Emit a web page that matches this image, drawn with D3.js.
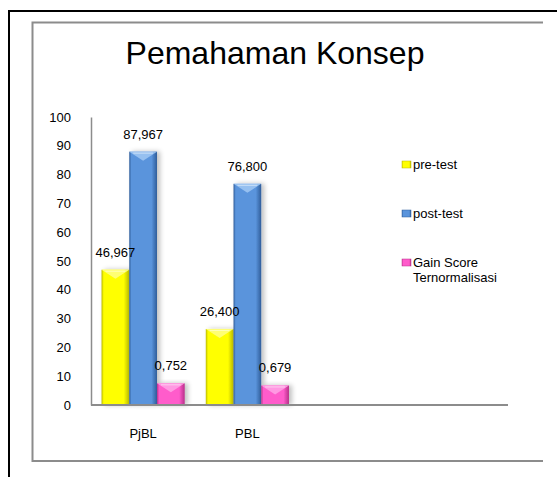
<!DOCTYPE html>
<html>
<head>
<meta charset="utf-8">
<script src="https://cdn.jsdelivr.net/npm/d3@7/dist/d3.min.js"></script>
<style>
    body { margin: 0; background: #fff; }
    svg text { font-family: "Liberation Sans", Arial, sans-serif; fill: #000; }
</style>
</head>
<body>
<div id="chart"></div>
<script>
// data
var categories = ["PjBL", "PBL"];
var seriesNames = ["pre-test", "post-test", "Gain Score Ternormalisasi"];
var preTest = [46.967, 26.400];
var postTest = [87.967, 76.800];
var gainPlotted = [7.52, 6.79];          // bar height as drawn in the picture
var preLabels = ["46,967", "26,400"];
var postLabels = ["87,967", "76,800"];
var gainLabels = ["0,752", "0,679"];
var yTicks = [0, 10, 20, 30, 40, 50, 60, 70, 80, 90, 100];

var width = 557, height = 477;
var slotCount = 4; // the chart leaves room for two more categories

var seriesValues = [preTest, postTest, gainPlotted];
var seriesLabels = [preLabels, postLabels, gainLabels];
var colors = [
    {base: "#ffff00", dark: "#b8b800", light: "#ffff80"},
    {base: "#5a94dc", dark: "#2f5d9a", light: "#9cc4f2"},
    {base: "#ff5ccb", dark: "#b8308a", light: "#ffa0e4"}
];

var svg = d3.select("#chart").append("svg")
    .attr("width", width)
    .attr("height", height);

var defs = svg.append("defs");
colors.forEach(function (c, i) {
    var g = defs.append("linearGradient")
        .attr("id", "grad" + i)
        .attr("x1", "0%").attr("x2", "100%")
        .attr("y1", "0%").attr("y2", "0%");
    g.append("stop").attr("offset", "0%").attr("stop-color", c.dark);
    g.append("stop").attr("offset", "8%").attr("stop-color", c.base);
    g.append("stop").attr("offset", "80%").attr("stop-color", c.base);
    g.append("stop").attr("offset", "100%").attr("stop-color", c.dark);
});
var shadow = defs.append("filter").attr("id", "shadow")
    .attr("x", "-20%").attr("y", "-20%").attr("width", "160%").attr("height", "140%");
shadow.append("feGaussianBlur").attr("in", "SourceAlpha").attr("stdDeviation", 2.5);
shadow.append("feOffset").attr("dx", 3).attr("dy", 0).attr("result", "blur");
shadow.append("feComponentTransfer").append("feFuncA").attr("type", "linear").attr("slope", 0.25);
var merge = shadow.append("feMerge");
merge.append("feMergeNode");
merge.append("feMergeNode").attr("in", "SourceGraphic");

// frames
svg.append("path")
    .attr("d", "M9,477 V11 H557")
    .attr("fill", "none").attr("stroke", "#000").attr("stroke-width", 2);
svg.append("path")
    .attr("d", "M543,22.5 H32.5 V461 H543")
    .attr("fill", "none").attr("stroke", "#8c8c8c").attr("stroke-width", 2);

// title
svg.append("text")
    .attr("x", 275).attr("y", 64)
    .attr("text-anchor", "middle")
    .style("font-size", "32px")
    .text("Pemahaman Konsep");

var plot = {left: 91, right: 508, top: 117, bottom: 405};
var plotW = plot.right - plot.left;

var yScale = d3.scaleLinear()
    .domain([0, 100])
    .range([plot.bottom, plot.top]);

var xScale = d3.scaleBand()
    .domain(categories)
    .range([plot.left, plot.left + plotW * categories.length / slotCount])
    .padding(0);

var xInner = d3.scaleBand()
    .domain(d3.range(seriesNames.length))
    .range([0, xScale.bandwidth()])
    .paddingInner(0)
    .paddingOuter(0.38);

// y axis
var yAxis = svg.append("g")
    .attr("transform", "translate(" + plot.left + ",0)")
    .call(d3.axisLeft(yScale).tickValues(yTicks).tickSize(0).tickPadding(20));
yAxis.select(".domain").attr("stroke", "#8c8c8c").attr("stroke-width", 1.5);
yAxis.selectAll("text")
    .style("font-size", "13px")
    .style("font-family", "Liberation Sans, Arial, sans-serif");

// bars
var groups = svg.selectAll("g.cat")
    .data(categories)
    .enter().append("g")
    .attr("class", "cat")
    .attr("transform", function (d) { return "translate(" + xScale(d) + ",0)"; });

groups.each(function (cat, ci) {
    var g = d3.select(this);
    seriesValues.forEach(function (vals, si) {
        var x0 = xInner(si), w = xInner.bandwidth();
        var y0 = yScale(vals[ci]);
        var h = yScale(0) - y0;
        var bar = g.append("g").attr("filter", "url(#shadow)");
        bar.append("rect")
            .attr("x", x0).attr("y", y0)
            .attr("width", w).attr("height", h)
            .attr("fill", "url(#grad" + si + ")");
        var b = Math.min(9, h / 2);
        bar.append("path")
            .attr("d", "M" + x0 + "," + y0 +
                " L" + (x0 + w) + "," + y0 +
                " L" + (x0 + w / 2) + "," + (y0 + b) + " Z")
            .attr("fill", colors[si].light)
            .attr("opacity", 0.9);
        bar.append("path")
            .attr("d", "M" + (x0 + 4) + "," + (y0 + 1.5) +
                " L" + (x0 + w - 4) + "," + (y0 + 1.5))
            .attr("stroke", "#fff").attr("stroke-opacity", 0.5).attr("stroke-width", 1);
    });
});

// data labels drawn above bars
groups.each(function (cat, ci) {
    var g = d3.select(this);
    seriesValues.forEach(function (vals, si) {
        g.append("text")
            .attr("x", xInner(si) + xInner.bandwidth() / 2)
            .attr("y", yScale(vals[ci]) - 13)
            .attr("text-anchor", "middle")
            .style("font-size", "13px")
            .text(seriesLabels[si][ci]);
    });
});

// x axis
var xAxis = svg.append("g")
    .attr("transform", "translate(0," + plot.bottom + ")");
xAxis.append("line")
    .attr("x1", plot.left).attr("x2", plot.right)
    .attr("stroke", "#8c8c8c").attr("stroke-width", 2);
xAxis.selectAll("text")
    .data(categories)
    .enter().append("text")
    .attr("x", function (d) { return xScale(d) + xScale.bandwidth() / 2; })
    .attr("y", 33)
    .attr("text-anchor", "middle")
    .style("font-size", "13px")
    .text(function (d) { return d; });

// legend
var legend = svg.append("g").attr("transform", "translate(402,161)");
var legendLines = [["pre-test"], ["post-test"], ["Gain Score", "Ternormalisasi"]];
legendLines.forEach(function (lines, i) {
    var item = legend.append("g").attr("transform", "translate(0," + (i * 49) + ")");
    item.append("rect")
        .attr("width", 9).attr("height", 7)
        .attr("fill", "url(#grad" + i + ")")
        .attr("stroke", colors[i].dark).attr("stroke-width", 0.5);
    lines.forEach(function (t, li) {
        item.append("text")
            .attr("x", 11).attr("y", 8 + li * 15)
            .style("font-size", "13px")
            .text(t);
    });
});
</script>
</body>
</html>
